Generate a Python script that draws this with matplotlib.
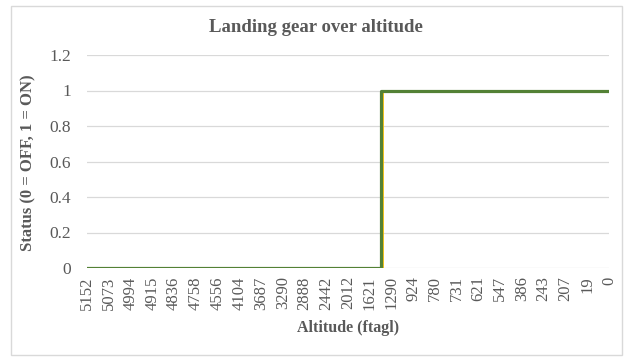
import numpy as np
import matplotlib.pyplot as plt
import matplotlib.transforms as mtransforms
from matplotlib.patches import Rectangle

# altitude categories (ft above ground) and gear status at each one
altitude = [5152, 5073, 4994, 4915, 4836, 4758, 4556, 4104, 3687, 3290,
            2888, 2442, 2012, 1621, 1290, 924, 780, 731, 621, 547,
            386, 243, 207, 19, 0]
gear_cmd = [0, 0, 0, 0, 0, 0, 0, 0, 0, 0, 0, 0, 0, 0,
            1, 1, 1, 1, 1, 1, 1, 1, 1, 1, 1]
gear_state = [0, 0, 0, 0, 0, 0, 0, 0, 0, 0, 0, 0, 0, 0,
              1, 1, 1, 1, 1, 1, 1, 1, 1, 1, 1]

plt.rcParams['font.family'] = ['Liberation Serif', 'DejaVu Serif']
grey = '#595959'

fig = plt.figure(figsize=(6.26, 3.58), dpi=100)
ax = fig.add_axes([87 / 626, 1 - 268 / 358, (609 - 87) / 626, (268 - 55) / 358])

x = np.arange(len(altitude))

# yellow series sits just behind the green one
shifted = mtransforms.offset_copy(ax.transData, fig=fig, x=1.2, y=0, units='dots')
ax.step(x, gear_state, where='mid', color='#FFC000', lw=2.0, transform=shifted, zorder=2)
ax.step(x, gear_cmd, where='mid', color='#538135', lw=2.3, zorder=3)

ax.set_xlim(0, len(altitude) - 1)
ax.set_ylim(0, 1.2)
ax.set_yticks([0, 0.2, 0.4, 0.6, 0.8, 1, 1.2])
ax.set_yticklabels(['0', '0.2', '0.4', '0.6', '0.8', '1', '1.2'])
ax.set_xticks(x)
ax.set_xticklabels([str(a) for a in altitude], rotation=90)

ax.yaxis.grid(True, color='#D9D9D9', lw=0.9)
ax.set_axisbelow(True)
for s in ax.spines.values():
    s.set_visible(False)
ax.tick_params(axis='both', length=0, colors=grey)
ax.tick_params(axis='y', pad=11.5, labelsize=12.5)
ax.tick_params(axis='x', pad=6, labelsize=12)

# title is centred on the whole chart area, not just the plot
fig.text(316 / 626, 1 - 28 / 358, 'Landing gear over altitude', fontsize=13.5,
         fontweight='bold', color=grey, ha='center', va='center')

ax.set_xlabel('Altitude (ftagl)', fontsize=11.5, fontweight='bold', color=grey)
ax.xaxis.set_label_coords(0.5, (268 - 328) / 213)
ax.xaxis.label.set_verticalalignment('center')

ax.set_ylabel('Status (0 = OFF, 1 = ON)', fontsize=12, fontweight='bold', color=grey)
ax.yaxis.set_label_coords((28 - 87) / 522, (268 - 163) / 213)
ax.yaxis.label.set_verticalalignment('center')

# chart area border
fig.patches.append(Rectangle((11 / 626, 1 - 355 / 358), 611 / 626, 349 / 358,
                             transform=fig.transFigure, fill=False,
                             edgecolor='#D9D9D9', lw=1))

fig.savefig('out.png', dpi=100)
